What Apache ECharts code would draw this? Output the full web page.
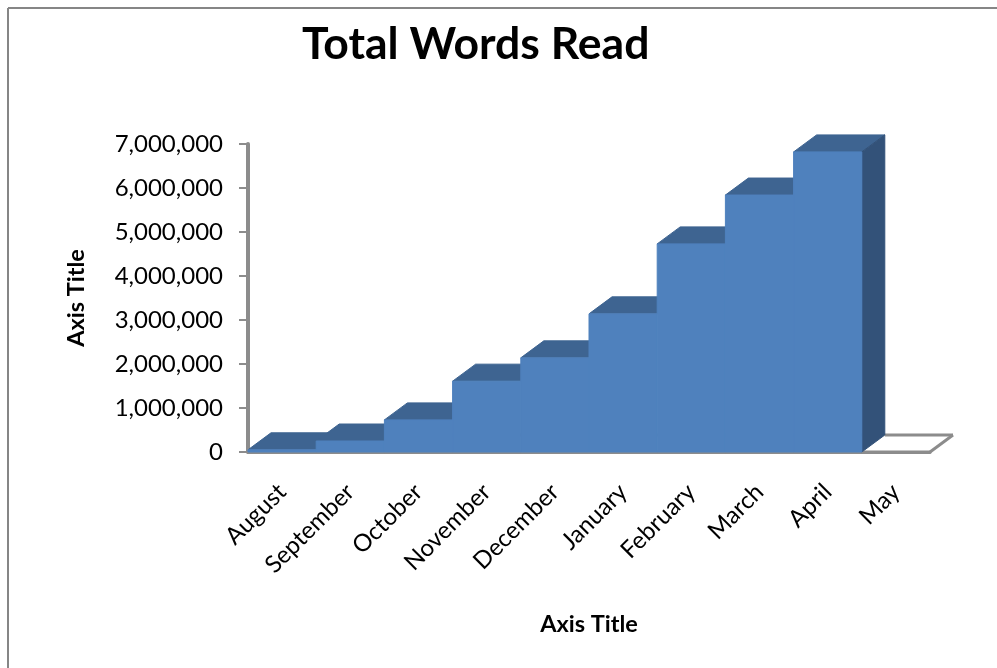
<!DOCTYPE html>
<html><head><meta charset="utf-8">
<style>html,body{margin:0;padding:0;background:#fff}#c{width:997px;height:668px}</style>
<script src="https://cdn.jsdelivr.net/npm/echarts@6/dist/echarts.min.js"></script>
</head><body><div id="c"></div>
<script>
const months = ['August','September','October','November','December','January','February','March','April','May'];
const totalWords = [50000,250000,730000,1610000,2140000,3140000,4730000,5840000,6820000,0];
const yMin = 0, yMax = 7000000, yStep = 1000000;
const titleText = 'Total Words Read';
const axisTitle = 'Axis Title';

const DX = 23, DY = -17;
const FRONT = '#4f81bd', TOP = '#3e6491', SIDE = '#335279', FLOOR = '#8c8c8c';
const FONT = 'Lato';

function poly(points, fill) {
  return {type:'polygon', shape:{points}, style:{fill, stroke:fill, lineWidth:1}};
}
function floorItem(params, api) {
  const i = api.value(0);
  const c = api.coord([i, 0]);
  const w = api.size([1, 0])[0];
  const l = c[0]-w/2, r = c[0]+w/2, y = c[1];
  const line = (x1,y1,x2,y2)=>({type:'line', shape:{x1,y1,x2,y2}, style:{stroke:FLOOR, lineWidth:3}});
  const kids = [
    {type:'polygon', shape:{points:[[l,y],[r,y],[r+DX,y+DY],[l+DX,y+DY]]}, style:{fill:'#fff'}},
    line(l+DX,y+DY,r+DX,y+DY),
    line(l,y,r,y)
  ];
  if (params.dataIndex === months.length-1) kids.push(line(r,y,r+DX,y+DY));
  return {type:'group', children:kids};
}
function stepItem(params, api) {
  const i = api.value(0), v = api.value(1);
  if (v <= 0) return null;
  const t = api.coord([i, v]), b = api.coord([i, 0]);
  const w = api.size([1, 0])[0];
  const l = t[0]-w/2, r = t[0]+w/2, yT = t[1], yB = b[1];
  const kids = [
    poly([[l,yT],[l+DX,yT+DY],[r+DX,yT+DY],[r,yT]], TOP),
    poly([[l,yB],[r,yB],[r,yT],[l,yT]], FRONT)
  ];
  if (params.dataIndex === months.length-2) {
    kids.splice(1,0,poly([[r,yT],[r+DX,yT+DY],[r+DX,yB+DY],[r,yB]], SIDE));
  }
  return {type:'group', children:kids};
}
const chart = echarts.init(document.getElementById('c'), null, {renderer:'canvas'});
chart.setOption({
  animation:false,
  backgroundColor:'#fff',
  title:{text:titleText, left:297, top:17,
    textStyle:{fontFamily:FONT, fontSize:44.5, fontWeight:'bold', color:'#000'}},
  grid:{left:248, right:67, top:144, bottom:216, containLabel:false},
  xAxis:{type:'category', data:months, boundaryGap:true,
    axisLine:{show:true, lineStyle:{color:FLOOR, width:3}},
    axisTick:{show:false},
    axisLabel:{interval:0, rotate:45, margin:36, fontFamily:FONT, fontSize:24, color:'#000'},
    name:axisTitle, nameLocation:'middle', nameGap:160,
    nameTextStyle:{fontFamily:FONT, fontSize:23.5, fontWeight:'bold', color:'#000'}},
  yAxis:{type:'value', min:yMin, max:yMax, interval:yStep,
    splitLine:{show:false},
    axisLine:{show:true, lineStyle:{color:FLOOR, width:4}},
    axisTick:{show:true, length:9, lineStyle:{color:FLOOR, width:2}},
    axisLabel:{margin:25, fontFamily:FONT, fontSize:24, color:'#000',
      formatter:v=>v.toLocaleString('en-US')},
    name:axisTitle, nameLocation:'middle', nameGap:160,
    nameTextStyle:{fontFamily:FONT, fontSize:23.5, fontWeight:'bold', color:'#000'}},
  series:[
    {type:'custom', name:'floor', renderItem:floorItem, clip:false, z:1, silent:true,
     encode:{x:0,y:1}, data:months.map((m,i)=>[i,0])},
    {type:'custom', name:'Total Words Read', renderItem:stepItem, clip:false, z:5, silent:true,
     encode:{x:0,y:1}, data:totalWords.map((v,i)=>[i,v])}
  ],
  graphic:[
    {type:'line', silent:true, z:0, shape:{x1:8,y1:8,x2:8,y2:668}, style:{stroke:'#868686',lineWidth:2}},
    {type:'line', silent:true, z:0, shape:{x1:8,y1:8,x2:997,y2:8}, style:{stroke:'#868686',lineWidth:2}}
  ]
});
</script></body></html>
